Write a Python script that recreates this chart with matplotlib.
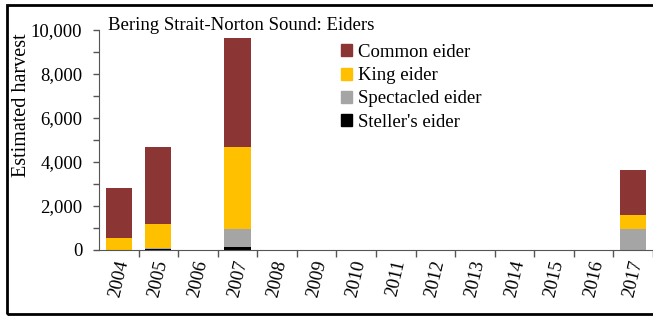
import matplotlib.pyplot as plt
import matplotlib.patches as mpatches
from matplotlib.ticker import MultipleLocator, FuncFormatter
import numpy as np

plt.rcParams['font.family'] = ['Liberation Serif', 'DejaVu Serif']

years = ['2004', '2005', '2006', '2007', '2008', '2009', '2010',
         '2011', '2012', '2013', '2014', '2015', '2016', '2017']
steller = [0, 40, 0, 130, 0, 0, 0, 0, 0, 0, 0, 0, 0, 0]
spectacled = [0, 40, 0, 820, 0, 0, 0, 0, 0, 0, 0, 0, 0, 940]
king = [550, 1100, 0, 3750, 0, 0, 0, 0, 0, 0, 0, 0, 0, 650]
common = [2250, 3520, 0, 4950, 0, 0, 0, 0, 0, 0, 0, 0, 0, 2050]

colors = {'common': '#8B3535', 'king': '#FFC000',
          'spectacled': '#A5A5A5', 'steller': '#000000'}

W, H = 653, 317
fig = plt.figure(figsize=(W / 100, H / 100), dpi=100)
ax = fig.add_axes([99 / W, 1 - 250 / H, (W - 99) / W, 220 / H])

x = np.arange(len(years))
bw = 0.66
bottom = np.zeros(len(years))
for vals, key in [(steller, 'steller'), (spectacled, 'spectacled'),
                  (king, 'king'), (common, 'common')]:
    ax.bar(x, vals, bw, bottom=bottom, color=colors[key], linewidth=0)
    bottom += np.array(vals)

ax.set_ylim(0, 10000)
ax.set_xlim(-0.5, -0.5 + (W - 99) / 39.6)
ax.yaxis.set_major_locator(MultipleLocator(2000))
ax.yaxis.set_minor_locator(MultipleLocator(1000))
ax.yaxis.set_major_formatter(FuncFormatter(lambda v, p: f'{int(v):,}'))
ax.set_xticks(x)
ax.set_xticklabels(years, rotation=77, ha='center', va='top')
ax.set_xticks(np.arange(len(years)) + 0.5, minor=True)
ax.tick_params(axis='x', which='major', length=0, pad=6, labelsize=13.5)
ax.tick_params(axis='x', which='minor', length=5, width=1, color='#555555')
ax.tick_params(axis='y', which='both', length=4, width=1, color='#555555',
               labelsize=13.5, pad=8)
for s in ['top', 'right']:
    ax.spines[s].set_visible(False)
for s in ['left', 'bottom']:
    ax.spines[s].set_color('#555555')
ax.set_ylabel('Estimated harvest', fontsize=14.5, va='center')
ax.yaxis.set_label_coords(22 / W, 1 - 105 / H, transform=fig.transFigure)

fig.text(108 / W, 1 - 26 / H, 'Bering Strait-Norton Sound: Eiders',
         fontsize=13.5, va='center', ha='left')

handles = [mpatches.Patch(color=colors[k]) for k in
           ['common', 'king', 'spectacled', 'steller']]
labels = ['Common eider', 'King eider', 'Spectacled eider', "Steller's eider"]
fig.legend(handles, labels, loc='upper left',
           bbox_to_anchor=(341 / W, 1 - 44 / H), frameon=False, fontsize=13.5,
           handlelength=0.6, handleheight=0.6, handletextpad=0.3,
           labelspacing=0.33, borderpad=0, borderaxespad=0)

fig.patches.append(mpatches.Rectangle((7 / W, 3 / H), 1.0, 1 - 8 / H,
                                      transform=fig.transFigure, fill=False,
                                      edgecolor='black', linewidth=2))

fig.savefig('out.png', dpi=100)
